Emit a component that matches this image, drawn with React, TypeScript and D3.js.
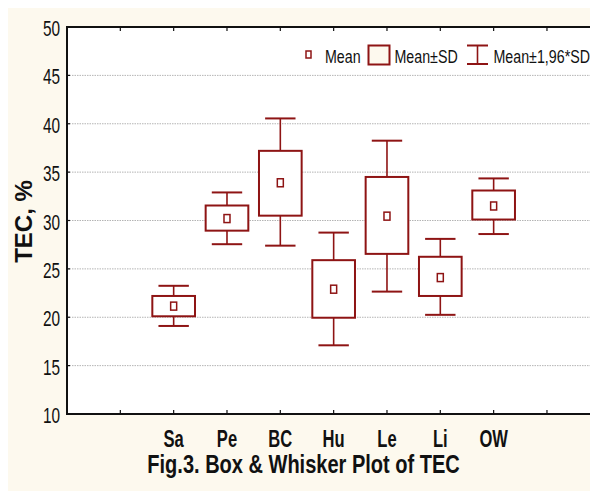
import React from "react";
import * as d3 from "d3";

const categories = ["Sa", "Pe", "BC", "Hu", "Le", "Li", "OW"];
const catPositions = [2, 3, 4, 5, 6, 7, 8];
const means = [21.15, 30.2, 33.9, 22.9, 30.45, 24.1, 31.5];
const sdLow = [20.1, 28.95, 30.5, 19.95, 26.55, 22.2, 30.1];
const sdHigh = [22.2, 31.55, 37.2, 25.9, 34.5, 26.25, 33.1];
const ciLow = [19.1, 27.55, 27.4, 17.1, 22.65, 20.25, 28.6];
const ciHigh = [23.25, 32.9, 40.55, 28.75, 38.25, 28.1, 34.35];
const yTicks = [10, 15, 20, 25, 30, 35, 40, 45, 50];
const xTickPositions = [1, 2, 3, 4, 5, 6, 7, 8, 9];
const legendLabels = ["Mean", "Mean±SD", "Mean±1,96*SD"];
const title = "Fig.3. Box & Whisker Plot of TEC";
const yLabel = "TEC, %";

const RED = "#8e1414";
const CREAM = "#fdf9ee";

function Txt(props: {
  x: number; y: number; text: string; size: number; sx?: number;
  anchor?: string; bold?: boolean; rotate?: number;
}) {
  const { x, y, text, size, sx = 0.72, anchor = "start", bold = false, rotate = 0 } = props;
  return (
    <text
      transform={`translate(${x},${y}) rotate(${rotate}) scale(${sx},1)`}
      fontFamily="'Liberation Sans', Arial, sans-serif"
      fontSize={size}
      fontWeight={bold ? "bold" : "normal"}
      textAnchor={anchor}
      fill="#111"
    >
      {text}
    </text>
  );
}

export default function App() {
  const left = 67, top = 27, bottom = 414, rightEdge = 597;
  const x = d3.scaleLinear().domain([0, 10]).range([left, left + 10 * 53.33]);
  const y = d3.scaleLinear().domain([10, 50]).range([bottom, top]);
  const step = x(1) - x(0);
  const boxW = step * 0.8;
  const capW = step * 0.57;

  return (
    <svg width={590} height={483} style={{ display: "block" }}>
      <g transform="translate(-8,-8)">
        <rect x={8} y={8} width={590} height={483} fill={CREAM} />
        <rect x={left} y={top} width={rightEdge - left} height={bottom - top} fill="#fff" />
        {/* gridlines */}
        {yTicks.filter((t) => t > 10 && t < 50).map((t) => (
          <line key={"g" + t} x1={left} x2={rightEdge} y1={y(t)} y2={y(t)}
            stroke="#b4b4b4" strokeWidth={1} strokeDasharray="1.5,1" />
        ))}
        {/* right side ticks */}
        {yTicks.filter((t) => t > 10 && t < 50).map((t) => (
          <line key={"rt" + t} x1={rightEdge - 2} x2={rightEdge} y1={y(t)} y2={y(t)}
            stroke="#222" strokeWidth={1.5} />
        ))}
        {/* frame */}
        <line x1={left} x2={left} y1={top} y2={bottom + 1} stroke="#111" strokeWidth={2} />
        <line x1={left - 1} x2={rightEdge} y1={bottom} y2={bottom} stroke="#111" strokeWidth={2} />
        <line x1={left - 1} x2={rightEdge} y1={top} y2={top} stroke="#111" strokeWidth={2} />
        {/* left ticks inward */}
        {yTicks.map((t) => (
          <line key={"lt" + t} x1={left} x2={left + 3} y1={y(t)} y2={y(t)} stroke="#111" strokeWidth={1.2} />
        ))}
        {/* x ticks top and bottom inward */}
        {xTickPositions.map((p) => (
          <g key={"xt" + p}>
            <line x1={x(p)} x2={x(p)} y1={bottom} y2={bottom - 4} stroke="#111" strokeWidth={1.2} />
            <line x1={x(p)} x2={x(p)} y1={top} y2={top + 4} stroke="#111" strokeWidth={1.2} />
          </g>
        ))}
        {/* y tick labels */}
        {yTicks.map((t) => (
          <Txt key={"yl" + t} x={60} y={y(t) + 9} text={String(t)} size={22} sx={0.7} anchor="end" />
        ))}
        {/* category labels */}
        {categories.map((c, i) => (
          <Txt key={"c" + c} x={x(catPositions[i])} y={447} text={c} size={23} sx={0.72} anchor="middle" bold />
        ))}
        {/* boxes */}
        {categories.map((c, i) => {
          const cx = x(catPositions[i]);
          return (
            <g key={"b" + c}>
              <line x1={cx} x2={cx} y1={y(ciHigh[i])} y2={y(sdHigh[i])} stroke={RED} strokeWidth={1.6} />
              <line x1={cx} x2={cx} y1={y(sdLow[i])} y2={y(ciLow[i])} stroke={RED} strokeWidth={1.6} />
              <line x1={cx - capW / 2} x2={cx + capW / 2} y1={y(ciHigh[i])} y2={y(ciHigh[i])} stroke={RED} strokeWidth={2} />
              <line x1={cx - capW / 2} x2={cx + capW / 2} y1={y(ciLow[i])} y2={y(ciLow[i])} stroke={RED} strokeWidth={2} />
              <rect x={cx - boxW / 2} y={y(sdHigh[i])} width={boxW} height={y(sdLow[i]) - y(sdHigh[i])}
                fill="#fff" stroke={RED} strokeWidth={2} />
              <rect x={cx - 3} y={y(means[i]) - 4} width={6} height={8} fill="#fff" stroke={RED} strokeWidth={1.5} />
            </g>
          );
        })}
        {/* legend */}
        <rect x={306} y={51} width={5} height={7} fill="#fff" stroke={RED} strokeWidth={1.5} />
        <Txt x={325} y={62.5} text={legendLabels[0]} size={18.5} sx={0.77} />
        <rect x={368.5} y={45.5} width={21} height={19} fill={CREAM} stroke={RED} strokeWidth={2} />
        <Txt x={394.5} y={62.5} text={legendLabels[1]} size={18.5} sx={0.77} />
        <line x1={467} x2={488} y1={45.5} y2={45.5} stroke={RED} strokeWidth={2} />
        <line x1={467} x2={488} y1={64} y2={64} stroke={RED} strokeWidth={2} />
        <line x1={477.5} x2={477.5} y1={45.5} y2={64} stroke={RED} strokeWidth={1.6} />
        <Txt x={493.5} y={62.5} text={legendLabels[2]} size={18.5} sx={0.77} />
        {/* axis title */}
        <Txt x={32} y={221.5} text={yLabel} size={24} sx={1} anchor="middle" bold rotate={-90} />
        {/* chart title */}
        <Txt x={303.5} y={473} text={title} size={26} sx={0.77} anchor="middle" bold />
      </g>
    </svg>
  );
}
